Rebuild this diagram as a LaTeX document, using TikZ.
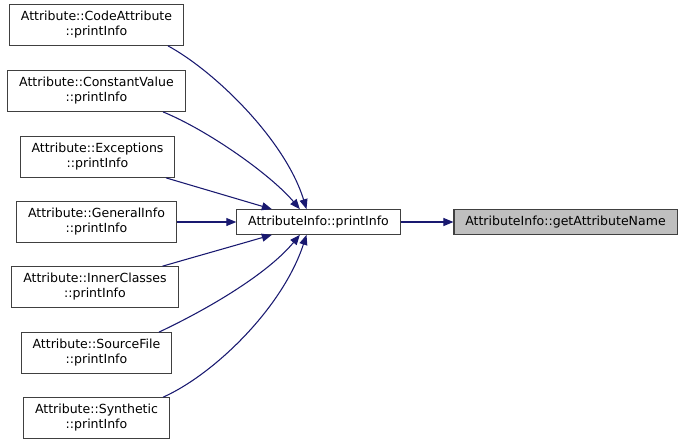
\documentclass[tikz,border=0pt]{standalone}
\usepackage{fontspec}
\setmainfont{DejaVu Sans}
\usepackage{xcolor}
\definecolor{edgeblue}{HTML}{191970}
\definecolor{boxedge}{HTML}{404040}
\definecolor{focusfill}{HTML}{BFBFBF}
\usepackage{tikz}
\usetikzlibrary{arrows.meta, positioning, calc}

\begin{document}
\begin{tikzpicture}[
  x=0.75pt, y=-0.75pt,
  font=\fontsize{9.4}{11.25}\selectfont,
  fn/.style={
    draw=boxedge, line width=0.8pt, fill=white,
    minimum height=30.5pt, inner xsep=8.5pt, align=center
  },
  single/.style={fn, minimum height=18.5pt},
  call/.style={-{Triangle[length=7.5pt, width=6pt]}, edgeblue, line width=0.8pt}
]
  \useasboundingbox (0,0) rectangle (685,444);

  % callers, top to bottom
  \node[fn] (code)  at (96.5,25)  {Attribute::CodeAttribute\\::printInfo};
  \node[fn] (const) at (96.5,91)  {Attribute::ConstantValue\\::printInfo};
  \node[fn] (exc)   at (97.5,157) {Attribute::Exceptions\\::printInfo};
  \node[fn] (gen)   at (96.5,222) {Attribute::GeneralInfo\\::printInfo};
  \node[fn] (inner) at (95,287)   {Attribute::InnerClasses\\::printInfo};
  \node[fn] (src)   at (96.5,353) {Attribute::SourceFile\\::printInfo};
  \node[fn] (syn)   at (96.5,418) {Attribute::Synthetic\\::printInfo};

  \node[single] (pinfo) at (318.5,222) {AttributeInfo::printInfo};
  \node[single, fill=focusfill] (getname) at (565.5,222)
    {AttributeInfo::getAttributeName};

  \draw[call] ([xshift=-12pt]code.south east)
    .. controls +(35pt,-19pt) and +(-16pt,52pt) .. ([xshift=-9pt]pinfo.north);
  \draw[call] ([xshift=-17pt]const.south east)
    .. controls +(34pt,-14pt) and +(-22pt,26pt) .. ([xshift=-14pt]pinfo.north);
  \draw[call] ([xshift=-7pt]exc.south east) -- ([xshift=-35pt]pinfo.north);
  \draw[call] (gen) -- (pinfo);
  \draw[call] ([xshift=-12pt]inner.north east) -- ([xshift=-35pt]pinfo.south);
  \draw[call] ([xshift=-10pt]src.north east)
    .. controls +(36pt,17pt) and +(-25pt,-30pt) .. ([xshift=-14pt]pinfo.south);
  \draw[call] ([xshift=-5pt]syn.north east)
    .. controls +(38pt,17pt) and +(-18pt,-55pt) .. ([xshift=-9pt]pinfo.south);

  \draw[call] (pinfo) -- (getname);
\end{tikzpicture}
\end{document}
